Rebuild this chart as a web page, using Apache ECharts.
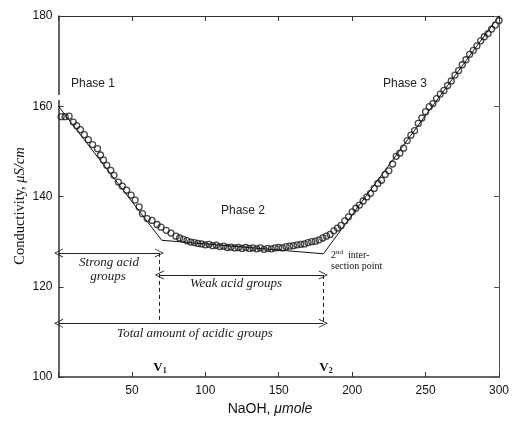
<!DOCTYPE html>
<html><head><meta charset="utf-8">
<script src="https://cdn.jsdelivr.net/npm/echarts@6/dist/echarts.min.js"></script>
<style>html,body{margin:0;padding:0;background:#fff}#c{width:512px;height:423px}</style>
</head><body><div id="c"></div>
<script>
// ---- data ----
var xTicks = [50, 100, 150, 200, 250, 300];
var yTicks = [100, 120, 140, 160, 180];
var phase1 = [[1.8,157.7],[4.5,157.7],[7.2,157.8],[10.1,156.5],[12.4,155.7],[14.9,154.8],[17.6,153.7],[20.3,152.6],[23.2,151.5],[26.6,150.6],[28.6,149.2],[30.6,148.1],[32.9,146.9],[35.6,145.8],[37.8,144.7],[40.8,143.2],[43.4,142.3],[46.4,141.4],[49.5,140.3],[52.2,139.2],[54.9,137.7],[57.2,136.2],[60.4,135.1],[63.7,134.7],[67.1,133.8],[69.8,133.2],[73.4,132.5],[76.6,131.9]];
var phase2 = [[80,131.2],[82.5,130.8],[85,130.5],[87.5,130.2],[90,129.9],[92.5,129.8],[95,129.6],[97.5,129.5],[100,129.3],[102.5,129.4],[105,129.1],[107.5,129.2],[110,128.9],[112.5,129.0],[115,128.7],[117.5,128.8],[120,128.6],[122.5,128.7],[125,128.5],[127.5,128.7],[130,128.5],[132.5,128.6],[135,128.4],[137.5,128.6],[140,128.3],[142.5,128.5],[145,128.4],[147.5,128.6],[150,128.7],[152.5,128.6],[155,128.9],[157.5,129.0],[160,129.1],[162.5,129.3],[165,129.4],[167.5,129.5],[170,129.8],[172.5,130.0],[175,130.1],[177.5,130.4],[180,130.8],[182.5,131.2],[185,131.6],[187.5,132.4],[190,133.0],[192.5,133.6],[195,134.6],[197.5,135.5],[200,136.6]];
var phase3 = [[202.5,137.4],[205,138.1],[207.5,139.0],[210,139.9],[212.5,140.7],[215,141.8],[217.5,142.9],[220,143.6],[222.5,144.9],[225,145.7],[227.5,147.2],[230,148.9],[232.5,149.6],[235,150.7],[237.5,152.4],[240,153.6],[242.5,154.6],[245,156.2],[247.5,157.4],[250,158.8],[252.5,159.9],[255,160.6],[257.5,161.7],[260,162.7],[262.5,163.5],[265,164.6],[267.5,165.6],[270,166.9],[272.5,167.9],[275,169.2],[277.5,170.3],[280,171.5],[282.5,172.4],[285,173.4],[287.5,174.5],[290,175.4],[292.5,176.1],[295,177.1],[297.5,178.0],[300,179.0]];
var fitLine = [[0,160],[70.3,130.3],[180.4,127.3],[300,180]];
var V1 = 68.7, V2 = 180.4;
var yStrong = 127.5, yWeak = 122.6, yTotal = 111.9;
// ---------------------------------------

var chev = 'path://M0,10 L5,0 L10,10 L9,10 L5,2 L1,10 Z';
var chart = echarts.init(document.getElementById('c'), null, {renderer:'canvas'});
var axCol = '#333';
var tickFont = {fontFamily:'Liberation Sans, Arial, sans-serif', fontSize:12, color:'#111'};
function arrowLine(x0, x1, y) {
  return [{coord:[x0,y], symbol:chev, symbolSize:[9,9]}, {coord:[x1,y], symbol:chev, symbolSize:[9,9]}];
}
function dashLine(x, y0, y1) {
  return [{coord:[x,y0], symbol:'none', lineStyle:{type:[4,3], color:'#222', width:1}}, {coord:[x,y1], symbol:'none'}];
}
var all = phase1.concat(phase2, phase3);
var serif = '"Liberation Serif", "Times New Roman", serif';
var sans = '"Liberation Sans", Arial, sans-serif';
var option = {
  animation:false,
  backgroundColor:'#fff',
  grid:{left:58.5, right:8.5, top:16, bottom:46, containLabel:false},
  xAxis:[{
    type:'value', min:0, max:300, interval:50, position:'bottom',
    axisLine:{onZero:false, lineStyle:{color:axCol, width:1.5}},
    axisTick:{inside:true, length:5, lineStyle:{color:axCol}},
    axisLabel:Object.assign({margin:8, formatter:function(v){return xTicks.indexOf(v)>=0? String(v):'';}}, tickFont),
    splitLine:{show:false}
  },{
    type:'value', min:0, max:300, interval:50, position:'top',
    axisLine:{onZero:false, lineStyle:{color:axCol, width:1}},
    axisTick:{inside:true, length:5, lineStyle:{color:axCol}},
    axisLabel:{show:false}, splitLine:{show:false}
  }],
  yAxis:[{
    type:'value', min:100, max:180, interval:20, position:'left',
    axisLine:{onZero:false, lineStyle:{color:axCol, width:1.5}},
    axisTick:{inside:true, length:5, lineStyle:{color:axCol}},
    axisLabel:Object.assign({margin:6, formatter:function(v){return yTicks.indexOf(v)>=0? String(v):'';}}, tickFont),
    splitLine:{show:false}
  },{
    type:'value', min:100, max:180, interval:20, position:'right',
    axisLine:{onZero:false, lineStyle:{color:'#555', width:1}},
    axisTick:{inside:true, length:5, lineStyle:{color:'#555'}},
    axisLabel:{show:false}, splitLine:{show:false}
  }],
  series:[{
    type:'line', data:fitLine, symbol:'none', silent:true,
    lineStyle:{color:'#111', width:1},
    markLine:{
      silent:true, label:{show:false},
      lineStyle:{color:'#222', width:1, type:'solid'},
      data:[
        arrowLine(0, V1, yStrong),
        arrowLine(V1, V2, yWeak),
        arrowLine(0, V2, yTotal),
        dashLine(V1, yStrong, yTotal),
        dashLine(V2, yWeak, yTotal)
      ]
    }
  },{
    type:'scatter', data:all, symbol:'circle', symbolSize:6, silent:true,
    itemStyle:{color:'rgba(255,255,255,0)', borderColor:'#1a1a1a', borderWidth:1.3}
  }],
  graphic:[
    {type:'rect', shape:{x:55, y:95, width:7, height:5}, style:{fill:'#fff'}, z:100},
    {type:'text', x:20, y:206, rotation:Math.PI/2, style:{text:'{a|Conductivity, }{b|μS/cm}', rich:{a:{font:'14.5px ' + serif, fill:'#111'}, b:{font:'italic 14.5px ' + serif, fill:'#111'}}, align:'center', verticalAlign:'middle'}},
    {type:'text', x:270, y:409, style:{text:'{a|NaOH, }{b|μmole}', rich:{a:{font:'14px ' + sans, fill:'#111'}, b:{font:'italic 14px ' + sans, fill:'#111'}}, align:'center', verticalAlign:'middle'}},
    {type:'text', x:93, y:84, style:{text:'Phase 1', font:'12px ' + sans, fill:'#222', align:'center', verticalAlign:'middle'}},
    {type:'text', x:243, y:211, style:{text:'Phase 2', font:'12px ' + sans, fill:'#222', align:'center', verticalAlign:'middle'}},
    {type:'text', x:405, y:84, style:{text:'Phase 3', font:'12px ' + sans, fill:'#222', align:'center', verticalAlign:'middle'}},
    {type:'text', x:109, y:263, style:{text:'Strong acid', font:'italic 13px ' + serif, fill:'#222', align:'center', verticalAlign:'middle'}},
    {type:'text', x:108, y:277, style:{text:'groups', font:'italic 13px ' + serif, fill:'#222', align:'center', verticalAlign:'middle'}},
    {type:'text', x:236, y:284, style:{text:'Weak acid groups', font:'italic 13px ' + serif, fill:'#222', align:'center', verticalAlign:'middle'}},
    {type:'text', x:195, y:334, style:{text:'Total amount of acidic groups', font:'italic 13px ' + serif, fill:'#222', align:'center', verticalAlign:'middle'}},
    {type:'text', x:160, y:368, style:{text:'{v|V}{s|1}', rich:{v:{font:'bold 13px ' + serif, fill:'#111'}, s:{font:'bold 8px ' + serif, fill:'#111', padding:[6,0,0,0]}}, align:'center', verticalAlign:'middle'}},
    {type:'text', x:326, y:368, style:{text:'{v|V}{s|2}', rich:{v:{font:'bold 13px ' + serif, fill:'#111'}, s:{font:'bold 8px ' + serif, fill:'#111', padding:[6,0,0,0]}}, align:'center', verticalAlign:'middle'}},
    {type:'text', x:331, y:255, style:{text:'{n|2}{sup|nd}{n|  inter-}', rich:{n:{font:'10px ' + serif, fill:'#111'}, sup:{font:'7px ' + serif, fill:'#111', padding:[0,0,5,0]}}, align:'left', verticalAlign:'middle'}},
    {type:'text', x:331, y:266, style:{text:'section point', font:'10px ' + serif, fill:'#111', align:'left', verticalAlign:'middle'}}
  ]
};
chart.setOption(option);
</script></body></html>
